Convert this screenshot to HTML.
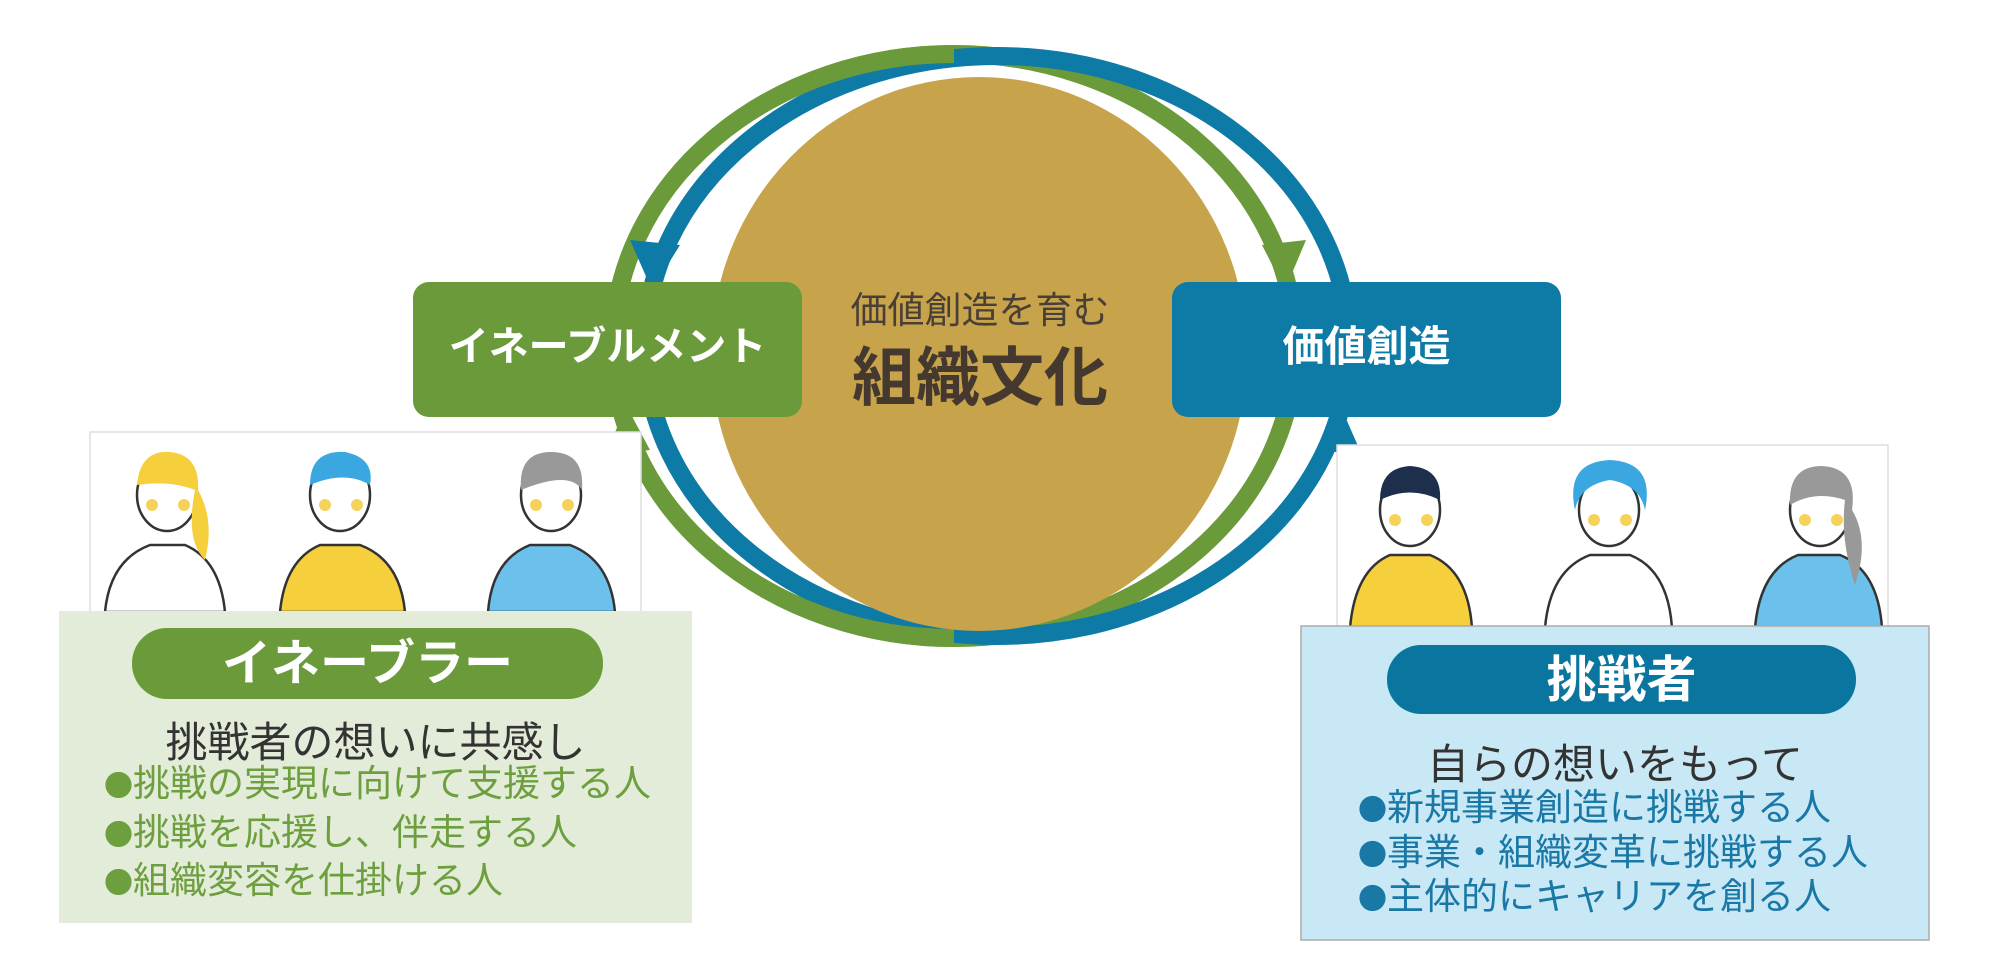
<!DOCTYPE html>
<html><head><meta charset="utf-8"><style>
html,body{margin:0;padding:0;background:#fff;}
body{width:2010px;height:964px;position:relative;overflow:hidden;font-family:"Liberation Sans","Noto Sans CJK JP",sans-serif;}
.abs{position:absolute;}
.t{position:absolute;white-space:nowrap;text-align:center;}
.b{font-family:"Noto Sans CJK JP",sans-serif;font-size:29px;line-height:1;}
</style></head><body>
<svg class="abs" style="left:0;top:0" width="2010" height="964" viewBox="0 0 2010 964">
  <ellipse cx="954" cy="346" rx="341" ry="292" fill="none" stroke="#6b9a3b" stroke-width="18"/>
  <ellipse cx="997" cy="346" rx="352" ry="290" fill="none" stroke="#0e7aa6" stroke-width="18"/>
  <path d="M954,54 A341,292 0 0 0 954,638" fill="none" stroke="#6b9a3b" stroke-width="18"/>
  <polygon points="652,290 630,240 680,245" fill="#0e7aa6"/>
  <polygon points="1285,290 1262,245 1306,240" fill="#6b9a3b"/>
  <polygon points="626,405 606,455 650,450" fill="#6b9a3b"/>
  <polygon points="1340,405 1318,450 1362,455" fill="#0e7aa6"/>
  <ellipse cx="979" cy="354" rx="268" ry="277" fill="#c7a44b"/>
  <rect x="90" y="432" width="551" height="190" fill="#fff" stroke="#ddd" stroke-width="1.5"/>
  <rect x="1337" y="445" width="551" height="190" fill="#fff" stroke="#ddd" stroke-width="1.5"/>
  <g stroke="#333" stroke-width="2.5">
    <path d="M105,612 Q110,560 150,545 L185,545 Q220,560 225,612 Z" fill="#fff"/>
    <ellipse cx="167" cy="495" rx="30" ry="36" fill="#fff"/>
    <path d="M137,485 Q140,450 170,452 Q200,455 198,490 Q215,520 205,560 Q185,540 195,490 Q170,480 137,485Z" fill="#f5cf3c" stroke="none"/>
    <path d="M280,612 Q285,560 320,545 L360,545 Q400,560 405,612 Z" fill="#f5cf3c"/>
    <ellipse cx="340" cy="495" rx="30" ry="36" fill="#fff"/>
    <path d="M310,485 Q310,450 345,452 Q375,458 370,485 Q345,470 310,485Z" fill="#3aa7e0" stroke="none"/>
    <path d="M488,612 Q492,560 530,545 L570,545 Q610,560 615,612 Z" fill="#6cc0ec"/>
    <ellipse cx="551" cy="495" rx="30" ry="36" fill="#fff"/>
    <path d="M521,490 Q518,452 551,452 Q585,452 582,490 Q570,470 521,490Z" fill="#999" stroke="none"/>
    <path d="M1350,628 Q1355,570 1390,555 L1430,555 Q1468,570 1472,628 Z" fill="#f5cf3c"/>
    <ellipse cx="1410" cy="510" rx="30" ry="36" fill="#fff"/>
    <path d="M1380,500 Q1380,468 1410,466 Q1442,468 1440,500 Q1410,485 1380,500Z" fill="#1d2f4a" stroke="none"/>
    <path d="M1545,628 Q1550,570 1590,555 L1630,555 Q1668,570 1672,628 Z" fill="#fff"/>
    <ellipse cx="1609" cy="510" rx="30" ry="36" fill="#fff"/>
    <path d="M1575,510 Q1565,462 1610,460 Q1655,462 1645,510 Q1640,485 1610,480 Q1580,485 1575,510Z" fill="#3aa7e0" stroke="none"/>
    <path d="M1755,628 Q1760,570 1798,555 L1840,555 Q1878,570 1882,628 Z" fill="#6cc0ec"/>
    <ellipse cx="1820" cy="510" rx="30" ry="36" fill="#fff"/>
    <path d="M1790,505 Q1788,466 1822,466 Q1858,468 1852,510 Q1870,540 1855,585 Q1840,540 1845,500 Q1815,490 1790,505Z" fill="#999" stroke="none"/>
  </g>
  <g fill="#f5d35a">
    <circle cx="152" cy="505" r="6"/><circle cx="184" cy="505" r="6"/>
    <circle cx="325" cy="505" r="6"/><circle cx="357" cy="505" r="6"/>
    <circle cx="536" cy="505" r="6"/><circle cx="568" cy="505" r="6"/>
    <circle cx="1395" cy="520" r="6"/><circle cx="1427" cy="520" r="6"/>
    <circle cx="1594" cy="520" r="6"/><circle cx="1626" cy="520" r="6"/>
    <circle cx="1805" cy="520" r="6"/><circle cx="1837" cy="520" r="6"/>
  </g>
  <rect x="59" y="611" width="633" height="312" fill="#e3ecd9"/>
  <rect x="1301" y="626" width="628" height="314" fill="#c9e8f5" stroke="#aaa" stroke-width="1.5"/>
  <rect x="132" y="628" width="471" height="71" rx="35" fill="#6b9a3b"/>
  <rect x="1387" y="645" width="469" height="69" rx="34" fill="#0a76a0"/>
  <rect x="413" y="282" width="389" height="135" rx="16" fill="#6b9a3b"/>
  <rect x="1172" y="282" width="389" height="135" rx="16" fill="#0e7aa6"/>
</svg>
<div class="t" style="left:413px;top:322px;width:389px;font-size:40px;font-weight:bold;color:#fff;line-height:50px;">イネーブルメント</div>
<div class="t" style="left:1172px;top:322px;width:389px;font-size:42px;font-weight:bold;color:#fff;line-height:50px;">価値創造</div>
<div class="t" style="left:780px;top:288px;width:400px;font-size:37px;color:#4a3f35;line-height:46px;">価値創造を育む</div>
<div class="t" style="left:780px;top:340px;width:400px;font-size:64px;font-weight:bold;color:#45392f;line-height:76px;">組織文化</div>
<div class="t" style="left:132px;top:637px;width:471px;font-size:49px;font-weight:bold;color:#fff;line-height:54px;">イネーブラー</div>
<div class="t" style="left:1387px;top:652px;width:469px;font-size:50px;font-weight:bold;color:#fff;line-height:56px;">挑戦者</div>
<div class="t" style="left:59px;top:718px;width:633px;font-size:42px;color:#333;line-height:50px;">挑戦者の想いに共感し</div>
<div class="t" style="left:1301px;top:740px;width:628px;font-size:42px;color:#333;line-height:50px;">自らの想いをもって</div>
<div class="abs" style="left:104px;top:760px;font-size:37px;color:#6e9f3f;line-height:48.5px;white-space:nowrap;"><span class="b">●</span>挑戦の実現に向けて支援する人<br><span class="b">●</span>挑戦を応援し、伴走する人<br><span class="b">●</span>組織変容を仕掛ける人</div>
<div class="abs" style="left:1358px;top:786px;font-size:37px;color:#1a78a6;line-height:44.5px;white-space:nowrap;"><span class="b">●</span>新規事業創造に挑戦する人<br><span class="b">●</span>事業・組織変革に挑戦する人<br><span class="b">●</span>主体的にキャリアを創る人</div>
</body></html>
